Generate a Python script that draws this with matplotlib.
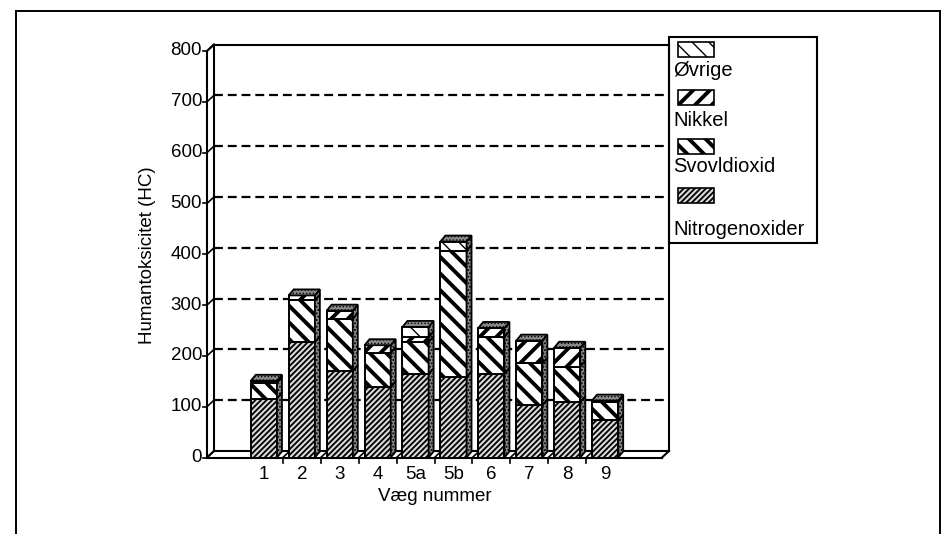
import matplotlib
matplotlib.use("Agg")
import matplotlib.pyplot as plt
from matplotlib.patches import Polygon, Rectangle
from matplotlib.lines import Line2D

plt.rcParams['font.family'] = ['Liberation Sans', 'DejaVu Sans']

# ---- data -------------------------------------------------------------
walls = ['1', '2', '3', '4', '5a', '5b', '6', '7', '8', '9']
nitrogenoxider = [116, 227, 170, 139, 164, 158, 165, 103, 109, 73]
svovldioxid = [31, 82, 103, 67, 63, 249, 72, 82, 70, 36]
nikkel = [4, 10, 16, 15, 10, 0, 18, 45, 37, 3]
oevrige = [0, 0, 0, 0, 20, 18, 0, 0, 0, 0]
series_names = ['Nitrogenoxider', 'Svovldioxid', 'Nikkel', 'Øvrige']
y_ticks = [0, 100, 200, 300, 400, 500, 600, 700, 800]
y_label = 'Humantoksicitet (HC)'
x_label = 'Væg nummer'

# hatch style per series: (pattern, hatch line width, face colour)
styles = {
    'Nitrogenoxider': ('//////', 1.3, '#d8d8d8'),
    'Svovldioxid': ('\\\\', 2.8, 'white'),
    'Nikkel': ('//', 2.8, 'white'),
    'Øvrige': ('\\\\', 1.0, 'white'),
}

W, H = 944, 534
fig = plt.figure(figsize=(W / 100, H / 100), dpi=100)

# front plane of the 3-D box in figure pixels (from top-left)
left_px, right_px = 207, 662
top_px, bottom_px = 51, 457.5
ax = fig.add_axes([left_px / W, 1 - bottom_px / H,
                   (right_px - left_px) / W, (bottom_px - top_px) / H])
x0, x1 = -1.5, len(walls) + 0.5
ymax = 800
ax.set_xlim(x0, x1)
ax.set_ylim(0, ymax)
ax.axis('off')

ppx = (right_px - left_px) / (x1 - x0)
ppy = (bottom_px - top_px) / ymax
wdx, wdy = 7 / ppx, 6.5 / ppy      # depth of walls
bdx, bdy = 5 / ppx, 6 / ppy        # depth of bars


def line(xs, ys, **kw):
    kw.setdefault('color', 'black')
    kw.setdefault('lw', 1.5)
    ax.add_line(Line2D(xs, ys, clip_on=False, solid_capstyle='projecting', **kw))


# back wall frame and dashed grid
line([x0 + wdx, x1 + wdx], [ymax + wdy, ymax + wdy])
line([x1 + wdx, x1 + wdx], [wdy, ymax + wdy])
line([x0 + wdx, x0 + wdx], [wdy, ymax + wdy])
for v in y_ticks[1:-1]:
    line([x0 + wdx, x1 + wdx], [v + wdy, v + wdy], lw=1.6,
         linestyle=(0, (4, 2.2)), dash_capstyle='butt')

# left wall and value ticks
line([x0, x0], [0, ymax])
line([x0, x0 + wdx], [ymax, ymax + wdy])
for v in y_ticks:
    line([x0 - 4 / ppx, x0], [v, v], lw=1.2)
    line([x0, x0 + wdx], [v, v + wdy], lw=1.2)
    ax.text(x0 - 5 / ppx, v, str(v), ha='right', va='center', fontsize=13.5)

# floor
line([x0, x1], [0, 0])
line([x0 + wdx, x1 + wdx], [wdy, wdy])
line([x1, x1 + wdx], [0, wdy])
line([x0, x0 + wdx], [0, wdy])
for k in range(len(walls) - 1):
    b = k + 0.5
    line([b, b + wdx], [0, wdy], lw=1.2)
    line([b, b], [0, -5 / ppy], lw=1.2)

# stacked bars with side and top faces
xs = list(range(len(walls)))
width = 0.69
bottoms = [0.0] * len(walls)
series_vals = [nitrogenoxider, svovldioxid, nikkel, oevrige]
face_kw = dict(facecolor='#8a8a8a', edgecolor='black', lw=1.3,
               hatch='.....', clip_on=False)

for name, vals in zip(series_names, series_vals):
    pattern, hlw, fc = styles[name]
    with plt.rc_context({'hatch.linewidth': hlw}):
        bars = ax.bar(xs, vals, bottom=bottoms, width=width,
                      facecolor=fc, edgecolor='black', lw=1.4,
                      hatch=pattern, clip_on=False, zorder=3)
    for rect, v, b, x in zip(bars, vals, bottoms, xs):
        if hasattr(rect, 'set_hatch_linewidth'):
            rect.set_hatch_linewidth(hlw)
        if v <= 0:
            continue
        xr = x + width / 2
        side = Polygon([(xr, b), (xr, b + v), (xr + bdx, b + v + bdy),
                        (xr + bdx, b + bdy)], zorder=3, **face_kw)
        ax.add_patch(side)
    bottoms = [b + v for b, v in zip(bottoms, vals)]

with plt.rc_context({'hatch.linewidth': 0.6}):
    for x, t in zip(xs, bottoms):
        xl, xr = x - width / 2, x + width / 2
        top = Polygon([(xl, t), (xr, t), (xr + bdx, t + bdy), (xl + bdx, t + bdy)],
                      zorder=4, **face_kw)
        ax.add_patch(top)

# category labels and axis titles
for x, name in zip(xs, walls):
    ax.text(x, -17 / ppy, name, ha='center', va='center', fontsize=13.5)
ax.text((xs[0] + xs[-1]) / 2, -39 / ppy, x_label, ha='center', va='center',
        fontsize=13.5)
ax.text(x0 - 59 / ppx, (bottom_px - 255) / ppy, y_label, rotation=90,
        ha='center', va='center', fontsize=13.5)


# legend box in figure pixels
def fx(px):
    return px / W


def fy(py):
    return 1 - py / H


fig.add_artist(Rectangle((fx(669), fy(243)), fx(817) - fx(669), fy(37) - fy(243),
                         fill=False, lw=1.5, edgecolor='black',
                         transform=fig.transFigure))
patch_tops = [42, 90, 139, 188]
label_mid = [71, 121, 167, 230]
for name, pt, lm in zip(series_names[::-1], patch_tops, label_mid):
    pattern, hlw, fc = styles[name]
    with plt.rc_context({'hatch.linewidth': hlw}):
        r = Rectangle((fx(678), fy(pt + 15)), fx(714) - fx(678), fy(pt) - fy(pt + 15),
                      facecolor=fc, edgecolor='black', lw=1.2, hatch=pattern,
                      transform=fig.transFigure)
    if hasattr(r, 'set_hatch_linewidth'):
        r.set_hatch_linewidth(hlw)
    fig.add_artist(r)
    fig.text(fx(673), fy(lm), name, ha='left', va='center', fontsize=14.5)

# outer frame
for xs_, ys_ in [([16, 16], [11, 540]), ([16, 940], [11, 11]), ([940, 940], [11, 540])]:
    fig.add_artist(Line2D([fx(v) for v in xs_], [fy(v) for v in ys_],
                          color='black', lw=1.4, transform=fig.transFigure))

fig.savefig('out.png', dpi=100)
